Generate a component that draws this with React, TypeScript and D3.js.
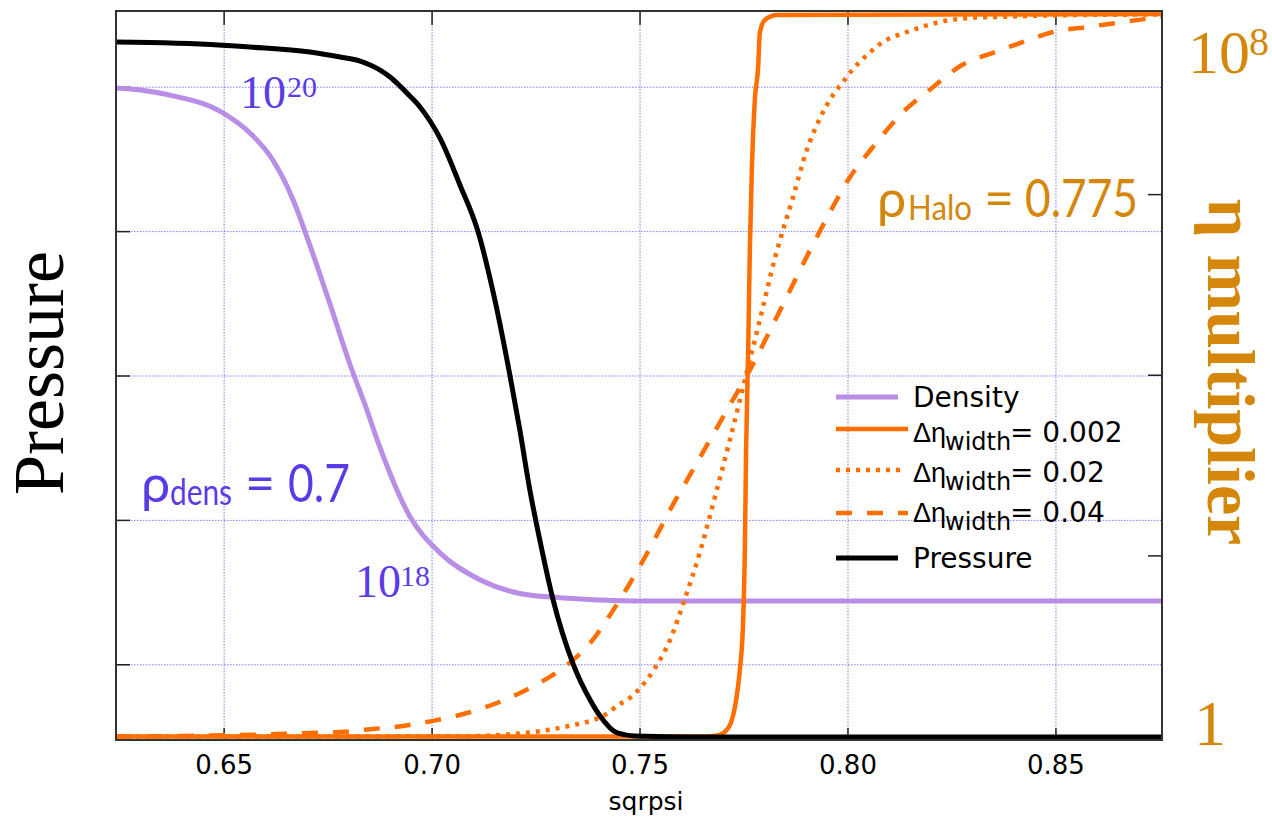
import React from "react";
import * as d3 from "d3";

// ---------- data ----------
const xTicks = [0.65, 0.7, 0.75, 0.8, 0.85];
const pressureTicks = [0.5, 1.5, 2.5, 3.5, 4.5];
const etaTicks = [1e2, 1e4, 1e6];

const densityX = [0.624, 0.6298, 0.6363, 0.6497, 0.6562, 0.6617, 0.6666, 0.6706, 0.6755, 0.6803, 0.6839, 0.6868, 0.6947, 0.7019, 0.7115, 0.7211, 0.7308, 0.7404, 0.75, 0.8755];
const densityY = [1.0e20, 9.83e19, 9.43e19, 8.0e19, 6.68e19, 5.24e19, 3.66e19, 2.44e19, 1.43e19, 8.32e18, 5.81e18, 4.25e18, 2.13e18, 1.54e18, 1.21e18, 1.07e18, 1.03e18, 1.01e18, 1.0e18, 1.0e18];

const pressureX = [0.624, 0.6322, 0.6442, 0.6562, 0.6706, 0.6779, 0.6827, 0.6851, 0.6875, 0.6899, 0.6923, 0.6947, 0.6971, 0.6995, 0.7019, 0.7067, 0.711, 0.7151, 0.7187, 0.7211, 0.7235, 0.7259, 0.7291, 0.7339, 0.738, 0.7404, 0.7445, 0.7488, 0.7644, 0.8755];
const pressureY = [4.813, 4.81, 4.799, 4.778, 4.744, 4.709, 4.681, 4.654, 4.619, 4.571, 4.508, 4.438, 4.363, 4.266, 4.148, 3.823, 3.504, 3.026, 2.507, 2.126, 1.711, 1.364, 0.949, 0.506, 0.256, 0.145, 0.028, 0.007, 0, 0];

const eta002X = [0.624, 0.7656, 0.7686, 0.7712, 0.7731, 0.774, 0.7748, 0.7752, 0.7755, 0.776, 0.7764, 0.7767, 0.7769, 0.7776, 0.7784, 0.7788, 0.78, 0.7829, 0.8755];
const eta002Y = [1, 1, 1.026, 1.24, 2.54, 5.45, 19.5, 116, 1486, 1.9e4, 2.43e5, 8.71e5, 2.02e6, 1.12e7, 2.59e7, 6.17e7, 8.59e7, 9.75e7, 1e8];

const eta02X = [0.624, 0.7067, 0.7243, 0.7339, 0.7387, 0.7423, 0.7447, 0.7469, 0.75, 0.7536, 0.7572, 0.7606, 0.7644, 0.768, 0.7716, 0.7752, 0.7788, 0.7825, 0.7868, 0.7901, 0.7933, 0.7964, 0.7988, 0.801, 0.8046, 0.8084, 0.8142, 0.8221, 0.8293, 0.8397, 0.8479, 0.8755];
const eta02Y = [1, 1.005, 1.12, 1.34, 1.52, 1.82, 2.23, 2.54, 3.44, 5.74, 11.7, 31.7, 110, 449, 1920, 8870, 40900, 2.04e5, 9.42e5, 3.12e6, 7.06e6, 1.27e7, 1.77e7, 2.4e7, 3.52e7, 4.9e7, 6.32e7, 8.16e7, 9.04e7, 9.39e7, 9.64e7, 9.88e7];

const eta04X = [0.624, 0.6401, 0.6634, 0.6707, 0.6779, 0.6858, 0.693, 0.7002, 0.7084, 0.7156, 0.7235, 0.7308, 0.738, 0.7428, 0.7476, 0.7524, 0.7572, 0.762, 0.7668, 0.7716, 0.7764, 0.7813, 0.7861, 0.7909, 0.7957, 0.8005, 0.806, 0.813, 0.8202, 0.8274, 0.8354, 0.8421, 0.8493, 0.8575, 0.8647, 0.8733, 0.8755];
const eta04Y = [1, 1.013, 1.066, 1.093, 1.12, 1.21, 1.31, 1.49, 1.82, 2.35, 3.44, 5.45, 10.8, 22.2, 50.1, 122, 322, 787, 1920, 4690, 11400, 31700, 87900, 2.44e5, 6.43e5, 1.57e6, 3.37e6, 8.01e6, 1.52e7, 2.72e7, 3.79e7, 4.9e7, 6.32e7, 7.18e7, 7.96e7, 9.04e7, 9.27e7];

const legendLabels = ["Density", "0.002", "0.02", "0.04", "Pressure"];

// ---------- styles ----------
const PURPLE_LINE = "#B88EE6";
const PURPLE_TEXT = "#5B3BE6";
const ORANGE = "#FF6E00";
const GOLD = "#D4870A";
const GRID = "#7C7CFF";

export default function App() {
  const L = 116, R = 1162, T = 11, B = 740;
  const x = d3.scaleLinear().domain([0.624, 0.8755]).range([L, R]);
  const yP = d3.scaleLinear().domain([-0.021, 5.028]).range([B, T]);
  const yD = d3.scaleLog().domain([1e18, 1e20]).range([601, 88]);
  const yE = d3.scaleLog().domain([1, 1e8]).range([736.5, 14]);

  const mk = (xs: number[], ys: number[], ys2: (v: number) => number) =>
    d3
      .line<number>()
      .x((_, i) => x(xs[i]))
      .y((_, i) => ys2(ys[i]))
      .curve(d3.curveMonotoneX)(xs) as string;

  const densPath = mk(densityX, densityY, yD);
  const presPath = mk(pressureX, pressureY, yP);
  const e1 = mk(eta002X, eta002Y, yE);
  const e2 = mk(eta02X, eta02Y, yE);
  const e3 = mk(eta04X, eta04Y, yE);
  const fmt = d3.format(".2f");

  const legendRows = [
    { y: 397, x2: 898, stroke: PURPLE_LINE, w: 5, dash: undefined as string | undefined, base: 407 },
    { y: 429, x2: 908, stroke: ORANGE, w: 4.5, dash: undefined, base: 442 },
    { y: 470, x2: 900, stroke: ORANGE, w: 4.5, dash: "4,6", base: 482 },
    { y: 513, x2: 908, stroke: ORANGE, w: 4.5, dash: "16,15", base: 522 },
    { y: 558, x2: 898, stroke: "#000", w: 5, dash: undefined, base: 568 },
  ];

  return (
    <svg
      width={1272}
      height={817}
      style={{ position: "absolute", left: 0, top: 0, background: "#fff" }}
    >
      <defs>
        <clipPath id="plot">
          <rect x={L} y={T} width={R - L} height={B - T} />
        </clipPath>
      </defs>
      <rect x={0} y={0} width={1272} height={817} fill="#fff" />

      {/* grid */}
      {xTicks.map((t) => (
        <line key={"gx" + t} x1={x(t)} x2={x(t)} y1={T} y2={B} stroke={GRID} strokeWidth={1} strokeDasharray="1.5,1.5" />
      ))}
      {pressureTicks.map((t) => (
        <line key={"gy" + t} x1={L} x2={R} y1={yP(t)} y2={yP(t)} stroke={GRID} strokeWidth={1} strokeDasharray="1.5,1.5" />
      ))}

      {/* ticks */}
      {xTicks.map((t) => (
        <g key={"tx" + t}>
          <line x1={x(t)} x2={x(t)} y1={B} y2={B - 12} stroke="#222" strokeWidth={1.5} />
          <line x1={x(t)} x2={x(t)} y1={T} y2={T + 14} stroke="#222" strokeWidth={1.5} />
          <text x={x(t)} y={774} textAnchor="middle" fontFamily="DejaVu Sans" fontSize={26} fill="#000">
            {fmt(t)}
          </text>
        </g>
      ))}
      {pressureTicks.map((t) => (
        <line key={"tl" + t} x1={L} x2={L + 14} y1={yP(t)} y2={yP(t)} stroke="#222" strokeWidth={1.5} />
      ))}
      {etaTicks.map((t) => (
        <line key={"tr" + t} x1={R} x2={R - 14} y1={yE(t)} y2={yE(t)} stroke="#222" strokeWidth={1.5} />
      ))}

      {/* curves */}
      <g clipPath="url(#plot)" fill="none" strokeLinejoin="round">
        <path d={densPath} stroke={PURPLE_LINE} strokeWidth={5} />
        <path d={e3} stroke={ORANGE} strokeWidth={4.5} strokeDasharray="16,15" />
        <path d={e2} stroke={ORANGE} strokeWidth={4.5} strokeDasharray="4,6" />
        <path d={e1} stroke={ORANGE} strokeWidth={4.5} />
        <path d={presPath} stroke="#000" strokeWidth={5} />
      </g>

      {/* frame */}
      <rect x={L} y={T} width={R - L} height={B - T} fill="none" stroke="#333" strokeWidth={2} />

      {/* axis titles */}
      <text x={646} y={810} textAnchor="middle" fontFamily="DejaVu Sans" fontSize={25} fill="#000">
        sqrpsi
      </text>
      <text
        transform="translate(63,373) rotate(-90)"
        textAnchor="middle"
        fontFamily="Liberation Serif"
        fontSize={72}
        fill="#000"
      >
        Pressure
      </text>
      <text
        transform="translate(1208,372) rotate(90)"
        textAnchor="middle"
        fontFamily="Liberation Serif"
        fontWeight="bold"
        fontSize={68}
        fill={GOLD}
      >
        η multiplier
      </text>

      {/* right axis labels */}
      <text x={1188} y={73} fontFamily="Liberation Serif" fontSize={62} fill={GOLD}>10</text>
      <text x={1249} y={55} fontFamily="Liberation Serif" fontSize={40} fill={GOLD}>8</text>
      <text x={1194} y={745} fontFamily="Liberation Serif" fontSize={64} fill={GOLD}>1</text>

      {/* density annotations */}
      <text x={240} y={108} fontFamily="Liberation Serif" fontSize={46} fill={PURPLE_TEXT}>10</text>
      <text x={287} y={97} fontFamily="Liberation Serif" fontSize={30} fill={PURPLE_TEXT}>20</text>
      <text x={355} y={597} fontFamily="Liberation Serif" fontSize={46} fill={PURPLE_TEXT}>10</text>
      <text x={400} y={586} fontFamily="Liberation Serif" fontSize={30} fill={PURPLE_TEXT}>18</text>

      {/* rho_dens */}
      <g fontFamily="Lato" fill={PURPLE_TEXT}>
        <text x={141} y={502} fontSize={52}>ρ</text>
        <text x={170} y={505} fontSize={36} textLength={62} lengthAdjust="spacingAndGlyphs">dens</text>
        <text x={245} y={502} fontSize={52}>=</text>
        <text x={288} y={502} fontSize={52} textLength={62} lengthAdjust="spacingAndGlyphs">0.7</text>
      </g>

      {/* rho_halo */}
      <g fontFamily="Lato" fill={GOLD}>
        <text x={877} y={217} fontSize={52}>ρ</text>
        <text x={908} y={220} fontSize={34} textLength={64} lengthAdjust="spacingAndGlyphs">Halo</text>
        <text x={984} y={217} fontSize={52}>=</text>
        <text x={1025} y={217} fontSize={52} textLength={113} lengthAdjust="spacingAndGlyphs">0.775</text>
      </g>

      {/* legend */}
      {legendRows.map((r, i) => (
        <g key={"lg" + i}>
          <line x1={836} x2={r.x2} y1={r.y} y2={r.y} stroke={r.stroke} strokeWidth={r.w} strokeDasharray={r.dash} />
          {i === 0 || i === 4 ? (
            <text x={913} y={r.base} fontFamily="DejaVu Sans" fontSize={28} fill="#000">
              {legendLabels[i]}
            </text>
          ) : (
            <g fill="#000">
              <text x={913} y={r.base} fontFamily="Liberation Sans" fontSize={27}>Δη</text>
              <text x={945} y={r.base + 8} fontFamily="DejaVu Sans" fontSize={24}>width</text>
              <text x={1010} y={r.base} fontFamily="DejaVu Sans" fontSize={28}>{"= " + legendLabels[i]}</text>
            </g>
          )}
        </g>
      ))}
    </svg>
  );
}
